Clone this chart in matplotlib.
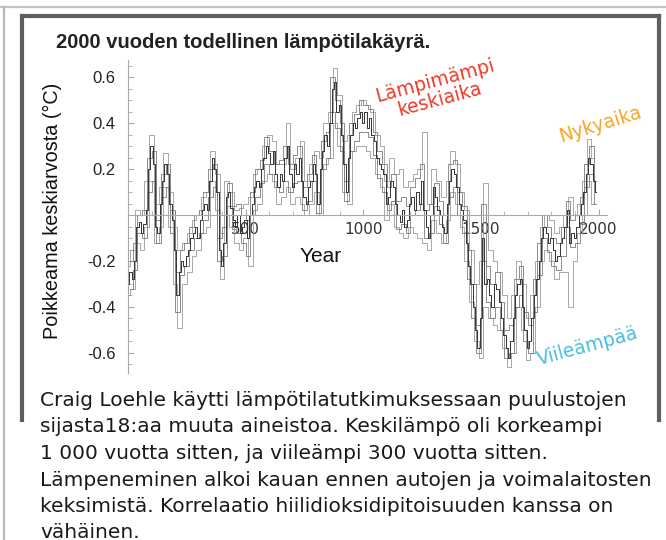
import matplotlib
matplotlib.use("Agg")
import matplotlib.pyplot as plt
from matplotlib.lines import Line2D
from matplotlib.ticker import MultipleLocator, FixedLocator

# ---- data ----
years_main = list(range(0, 2000, 10))
anomaly_main = [
    -0.30, -0.25, -0.28, -0.20, -0.05, -0.03, -0.08, -0.04, 0.02, 0.20,
    0.30, 0.22, -0.05, -0.08, 0.05, 0.15, 0.22, 0.18, 0.05, -0.02,
    -0.15, -0.35, -0.25, -0.20, -0.22, -0.18, -0.15, -0.10, -0.08, -0.05,
    -0.10, -0.02, 0.02, 0.05, 0.02, 0.15, 0.25, 0.20, 0.10, -0.15,
    -0.22, -0.12, 0.08, 0.10, 0.03, -0.02, -0.05, 0.00, -0.08, -0.05,
    -0.02, -0.10, 0.00, 0.05, 0.12, 0.15, 0.12, 0.20, 0.25, 0.30,
    0.27, 0.22, 0.28, 0.18, 0.12, 0.18, 0.15, 0.25, 0.30, 0.18,
    0.12, 0.22, 0.18, 0.25, 0.15, 0.08, 0.05, 0.12, 0.15, 0.22,
    0.18, 0.05, 0.20, 0.28, 0.35, 0.30, 0.40, 0.55, 0.58, 0.45,
    0.48, 0.35, 0.22, 0.10, 0.25, 0.35, 0.40, 0.38, 0.42, 0.45,
    0.40, 0.45, 0.38, 0.42, 0.35, 0.32, 0.25, 0.22, 0.20, 0.18,
    0.05, 0.08, 0.15, 0.12, 0.05, 0.00, -0.03, 0.02, -0.05, -0.02,
    0.05, 0.08, 0.02, 0.10, 0.05, 0.15, 0.02, -0.05, -0.10, 0.00,
    0.12, 0.08, 0.02, 0.00, -0.05, -0.08, 0.05, 0.15, 0.20, 0.18,
    0.12, 0.05, 0.02, -0.02, -0.12, -0.22, -0.30, -0.40, -0.50, -0.58,
    -0.45, -0.10, -0.30, -0.28, -0.35, -0.40, -0.30, -0.32, -0.38, -0.45,
    -0.52, -0.58, -0.62, -0.55, -0.45, -0.35, -0.30, -0.28, -0.40, -0.50,
    -0.58, -0.55, -0.45, -0.35, -0.28, -0.20, -0.10, -0.05, -0.08, -0.12,
    -0.10, -0.15, -0.20, -0.18, -0.12, -0.10, -0.05, 0.02, -0.12, -0.08,
    -0.10, -0.05, 0.00, 0.05, 0.10, 0.18, 0.25, 0.22, 0.15, 0.10,
]

years_env = list(range(0, 2000, 20))
anomaly_upper = [
    -0.22, -0.15, 0.02, 0.00, 0.15, 0.35, 0.05, 0.12, 0.27, 0.10,
    -0.05, -0.15, -0.12, -0.08, -0.02, 0.00, 0.08, 0.10, 0.28, 0.18,
    -0.08, 0.15, 0.10, 0.02, 0.03, 0.05, 0.08, 0.18, 0.20, 0.30,
    0.35, 0.32, 0.22, 0.22, 0.40, 0.20, 0.25, 0.32, 0.15, 0.22,
    0.28, 0.25, 0.40, 0.45, 0.64, 0.52, 0.32, 0.35, 0.45, 0.48,
    0.50, 0.48, 0.45, 0.35, 0.30, 0.15, 0.25, 0.18, 0.20, 0.12,
    0.15, 0.18, 0.20, 0.36, 0.05, 0.20, 0.15, 0.08, 0.15, 0.28,
    0.22, 0.10, 0.02, -0.15, -0.30, -0.20, 0.14, -0.15, -0.20, -0.25,
    -0.35, -0.45, -0.35, -0.20, -0.30, -0.45, -0.35, -0.20, -0.05, 0.00,
    -0.02, -0.08, -0.05, 0.00, 0.08, 0.00, 0.05, 0.15, 0.33, 0.25,
]
anomaly_lower = [
    -0.35, -0.32, -0.12, -0.15, -0.05, 0.15, -0.12, -0.05, 0.12, -0.05,
    -0.30, -0.49, -0.30, -0.25, -0.18, -0.15, -0.08, -0.05, 0.15, 0.02,
    -0.28, 0.00, -0.05, -0.12, -0.15, -0.10, -0.22, 0.02, 0.05, 0.15,
    0.18, 0.15, 0.05, 0.08, 0.12, 0.05, 0.08, 0.05, 0.00, 0.05,
    0.10, 0.00, 0.22, 0.25, 0.40, 0.30, 0.10, 0.05, 0.28, 0.30,
    0.30, 0.28, 0.25, 0.18, 0.12, -0.02, 0.05, -0.05, -0.08, -0.10,
    -0.05, -0.08, -0.10, -0.12, -0.15, -0.02, -0.08, -0.12, -0.02, 0.10,
    0.05, -0.05, -0.20, -0.38, -0.55, -0.62, -0.40, -0.45, -0.48, -0.50,
    -0.58, -0.66, -0.60, -0.40, -0.50, -0.63, -0.60, -0.40, -0.20, -0.15,
    -0.20, -0.28, -0.25, -0.25, -0.40, -0.20, -0.08, 0.00, 0.15, 0.05,
]

years_mid = list(range(10, 2000, 20))
anomaly_mid_hi = [
    -0.20, -0.12, 0.00, 0.02, 0.25, 0.28, -0.02, 0.18, 0.22, 0.02,
    -0.25, -0.15, -0.12, -0.05, 0.00, 0.02, 0.10, 0.20, 0.22, -0.10,
    -0.05, 0.14, 0.04, 0.05, 0.00, -0.02, 0.10, 0.20, 0.24, 0.34,
    0.28, 0.22, 0.24, 0.30, 0.22, 0.26, 0.30, 0.12, 0.18, 0.26,
    0.10, 0.32, 0.36, 0.60, 0.50, 0.40, 0.15, 0.40, 0.44, 0.50,
    0.48, 0.46, 0.36, 0.28, 0.22, 0.12, 0.18, 0.06, 0.08, 0.04,
    0.12, 0.16, 0.22, 0.02, 0.05, 0.14, 0.06, 0.00, 0.22, 0.24,
    0.10, 0.04, -0.15, -0.30, -0.48, 0.05, -0.22, -0.30, -0.25, -0.38,
    -0.50, -0.48, -0.28, -0.22, -0.42, -0.48, -0.28, -0.12, 0.00, -0.05,
    -0.10, -0.12, -0.05, 0.06, -0.02, 0.00, 0.08, 0.22, 0.30, 0.15,
]
anomaly_mid_lo = [
    -0.32, -0.24, -0.08, -0.10, 0.10, 0.15, -0.12, 0.08, 0.12, -0.08,
    -0.42, -0.26, -0.22, -0.15, -0.10, -0.08, -0.02, 0.08, 0.12, -0.20,
    -0.18, 0.04, -0.06, -0.08, -0.12, -0.18, 0.00, 0.08, 0.14, 0.22,
    0.18, 0.12, 0.10, 0.15, 0.10, 0.14, 0.15, 0.02, 0.06, 0.15,
    0.01, 0.20, 0.25, 0.45, 0.38, 0.28, 0.06, 0.28, 0.32, 0.36,
    0.36, 0.34, 0.26, 0.16, 0.10, 0.02, 0.06, -0.06, -0.04, -0.08,
    0.00, 0.02, 0.05, -0.10, -0.08, 0.04, -0.04, -0.12, 0.08, 0.12,
    0.00, -0.08, -0.28, -0.45, -0.60, -0.20, -0.38, -0.45, -0.40, -0.50,
    -0.62, -0.60, -0.40, -0.35, -0.55, -0.60, -0.42, -0.26, -0.10, -0.16,
    -0.22, -0.24, -0.18, -0.05, -0.14, -0.12, -0.04, 0.12, 0.18, 0.05,
]

x_ticks = [500, 1000, 1500, 2000]
y_ticks = [-0.6, -0.4, -0.2, 0.2, 0.4, 0.6]

title = "2000 vuoden todellinen lämpötilakäyrä."
caption_lines = [
    "Craig Loehle käytti lämpötilatutkimuksessaan puulustojen",
    "sijasta18:aa muuta aineistoa. Keskilämpö oli korkeampi",
    "1 000 vuotta sitten, ja viileämpi 300 vuotta sitten.",
    "Lämpeneminen alkoi kauan ennen autojen ja voimalaitosten",
    "keksimistä. Korrelaatio hiilidioksidipitoisuuden kanssa on",
    "vähäinen.",
]

W, H = 666, 540


def fx(x):
    return x / W


def fy(y):
    return 1 - y / H


fig = plt.figure(figsize=(W / 100, H / 100), dpi=100)
fig.patch.set_facecolor("white")

# frames
fig.add_artist(Line2D([0, 1], [fy(7), fy(7)], color="#c4c4c4", lw=1.6))
fig.add_artist(Line2D([fx(4), fx(4)], [fy(7), 0], color="#b8b8b8", lw=1.6))
frame_c = "#5e5e5e"
fig.add_artist(Line2D([fx(22), fx(659)], [fy(16), fy(16)], color=frame_c, lw=3))
fig.add_artist(Line2D([fx(22), fx(22)], [fy(16), fy(420)], color=frame_c, lw=3))
fig.add_artist(Line2D([fx(659), fx(659)], [fy(16), fy(420)], color=frame_c, lw=3))

ax = fig.add_axes([fx(128), fy(373), (607 - 128) / W, (373 - 60) / H])
ax.set_xlim(0, 2036)
ax.set_ylim(-0.687, 0.674)

ax.plot(years_env, anomaly_upper, drawstyle="steps-mid", color="#9a9a9a", lw=0.6)
ax.plot(years_env, anomaly_lower, drawstyle="steps-mid", color="#9a9a9a", lw=0.6)
ax.plot(years_mid, anomaly_mid_hi, drawstyle="steps-mid", color="#7a7a7a", lw=0.6)
ax.plot(years_mid, anomaly_mid_lo, drawstyle="steps-mid", color="#7a7a7a", lw=0.6)
ax.plot(years_main, anomaly_main, drawstyle="steps-mid", color="#333333", lw=0.7)

for s in ["top", "right"]:
    ax.spines[s].set_visible(False)
ax.spines["bottom"].set_position(("data", 0))
ax.spines["bottom"].set_color("#a8a8a8")
ax.spines["left"].set_color("#a8a8a8")

ax.xaxis.set_major_locator(FixedLocator(x_ticks))
ax.xaxis.set_minor_locator(MultipleLocator(100))
ax.yaxis.set_major_locator(FixedLocator(y_ticks))
ax.yaxis.set_minor_locator(MultipleLocator(0.05))
ax.set_yticklabels([f"{v:.1f}" for v in y_ticks],
                   family="Liberation Sans", fontsize=12, color="#222222")
ax.set_xticklabels([str(v) for v in x_ticks], family="DejaVu Sans",
                   fontsize=11, color="#333333")
ax.tick_params(axis="both", which="both", direction="in", color="#a8a8a8")
ax.tick_params(axis="y", which="major", length=4, pad=9)
ax.tick_params(axis="y", which="minor", length=3)
ax.tick_params(axis="x", which="major", length=4, pad=5)
ax.tick_params(axis="x", which="minor", length=3)
ax.patch.set_alpha(0)

fig.text(fx(321), fy(257), "Year", family="Liberation Sans", fontsize=15,
         ha="center", va="center", color="#111111")
fig.text(fx(52), fy(211), "Poikkeama keskiarvosta (°C)", family="Liberation Sans",
         fontsize=14.3, rotation=90, ha="center", va="center", color="#111111")
fig.text(fx(56), fy(48), title, family="Liberation Sans", fontweight="bold",
         fontsize=14.5, ha="left", va="baseline", color="#222222")

fig.text(fx(437), fy(90), "Lämpimämpi\nkeskiaika", color="#ee3a24", fontsize=13.5,
         rotation=15, ha="center", va="center", rotation_mode="anchor",
         linespacing=1.0)
fig.text(fx(600), fy(124), "Nykyaika", color="#f5a623", fontsize=13.5,
         rotation=17, ha="center", va="center", rotation_mode="anchor")
fig.text(fx(588), fy(346), "Viileämpää", color="#45bfe0", fontsize=13.5,
         rotation=15, ha="center", va="center", rotation_mode="anchor")

for i, line in enumerate(caption_lines):
    fig.text(fx(40), fy(406 + 26.5 * i), line, family="DejaVu Sans", fontsize=14.5,
             ha="left", va="baseline", color="#1a1a1a")

fig.savefig("out.png", dpi=100)
